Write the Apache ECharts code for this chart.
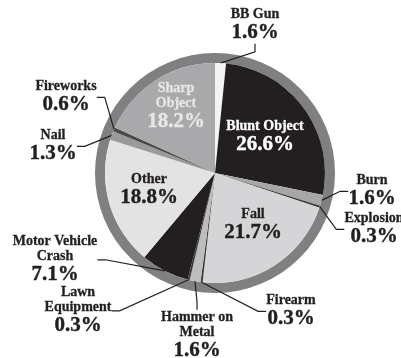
<!DOCTYPE html>
<html>
<head>
<meta charset="utf-8">
<script src="https://cdn.jsdelivr.net/npm/echarts@6/dist/echarts.min.js"></script>
<style>
  html, body { margin: 0; padding: 0; background: #ffffff; }
  #chart { width: 401px; height: 358px; }
</style>
</head>
<body>
<div id="chart"></div>
<script>
// Injury mechanisms, share of cases (%), clockwise from 12 o'clock
const categories = [
  'BB Gun', 'Blunt Object', 'Burn', 'Explosion', 'Fall', 'Firearm',
  'Hammer on\nMetal', 'Lawn\nEquipment', 'Motor Vehicle\nCrash', 'Other',
  'Nail', 'Fireworks', 'Sharp\nObject'
];
const shares = [1.6, 26.6, 1.6, 0.3, 21.7, 0.3, 1.6, 0.3, 7.1, 18.8, 1.3, 0.6, 18.2];

// Slice fills
const sliceColors = [
  '#f4f4f4', '#231f20', '#a7a7a9', '#3a3a3a', '#d5d5d7', '#3a3a3a',
  '#bdbdbf', '#3a3a3a', '#231f20', '#e3e3e4', '#9a9a9c', '#4a4a4a', '#a9a9ab'
];

// Labels drawn on top of the slice instead of outside it
const insideIdx = [1, 4, 9, 12];
const insideTextColors = { 1: '#ffffff', 4: '#231f20', 9: '#231f20', 12: '#e6e6e6' };

// Label block centres (px)
const labelCenters = [
  [255, 25.5], [265, 137.5], [372, 191.5], [374, 229.5], [253, 225.5],
  [291, 311.5], [197, 336], [78, 311], [55, 260], [149, 190.5],
  [53, 146.5], [66, 97.5], [176, 107]
];

const CENTER = [215, 173];
const FONT = '"Liberation Serif", "Times New Roman", serif';

const pieData = categories.map(function (name, i) {
  const inside = insideIdx.indexOf(i) >= 0;
  const item = {
    name: name,
    value: shares[i],
    itemStyle: { color: sliceColors[i] }
  };
  if (inside) {
    item.label = {
      position: 'inside',
      rich: {
        n: { color: insideTextColors[i], textBorderColor: insideTextColors[i] },
        v: { color: insideTextColors[i], textBorderColor: insideTextColors[i] }
      }
    };
    item.labelLine = { show: false };
  }
  return item;
});

const chart = echarts.init(document.getElementById('chart'), null, { renderer: 'canvas' });

chart.setOption({
  animation: false,
  backgroundColor: '#ffffff',
  series: [
    {
      // outer grey rim
      type: 'pie',
      center: CENTER,
      radius: [110, 120],
      silent: true,
      z: 1,
      label: { show: false },
      labelLine: { show: false },
      itemStyle: { color: '#807f82' },
      data: [{ value: 1, name: '' }]
    },
    {
      type: 'pie',
      center: CENTER,
      radius: [0, 110],
      startAngle: 90,
      clockwise: true,
      z: 2,
      avoidLabelOverlap: false,
      silent: true,
      itemStyle: { borderWidth: 0 },
      label: {
        show: true,
        position: 'outside',
        fontFamily: FONT,
        fontWeight: 'bold',
        color: '#231f20',
        formatter: function (p) {
          const lines = p.name.split('\n').map(function (s) { return '{n|' + s + '}'; });
          return lines.join('\n') + '\n{v|' + p.value.toFixed(1) + '%}';
        },
        rich: {
          n: {
            fontFamily: FONT, fontWeight: 'bold', fontSize: 14, lineHeight: 15,
            color: '#231f20', align: 'center', textBorderColor: '#231f20', textBorderWidth: 0.3
          },
          v: {
            fontFamily: FONT, fontWeight: 'bold', fontSize: 21, lineHeight: 23,
            color: '#231f20', align: 'center', textBorderColor: '#231f20', textBorderWidth: 0.4
          }
        }
      },
      labelLine: {
        show: true,
        length: 8,
        length2: 8,
        lineStyle: { color: '#231f20', width: 1.2 }
      },
      labelLayout: function (p) {
        const c = labelCenters[p.dataIndex];
        return { x: c[0], y: c[1], align: 'center', verticalAlign: 'middle', hideOverlap: false };
      },
      data: pieData
    }
  ]
});
</script>
</body>
</html>
